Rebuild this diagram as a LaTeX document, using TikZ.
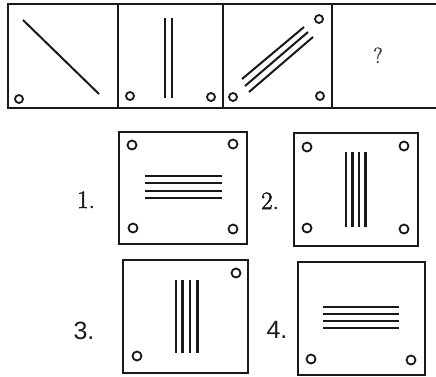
\documentclass[tikz,border=0pt]{standalone}
\usepackage{fontspec}
\newfontfamily\arialfont{Liberation Sans}
\newfontfamily\lmheavy[FakeBold=2]{Latin Modern Roman}
\begin{document}
\begin{tikzpicture}[x=1pt,y=-1pt,
  frame/.style={line width=2.4pt,draw=black!90},
  optbox/.style={line width=2.6pt,draw=black!90},
  stroke/.style={line width=2.2pt,draw=black!90},
  dot/.style={line width=1.8pt,draw=black!90},
  lbl/.style={font=\lmheavy\fontsize{25}{25}\selectfont,anchor=base,text=black!90},
  lbls/.style={font=\arialfont\fontsize{25}{25}\selectfont,anchor=base,text=black!90}]
\useasboundingbox (0,0) rectangle (436,376);
\fill[white] (0,0) rectangle (436,376);
% top row
\draw[frame] (8,4) rectangle (440,108);
\draw[frame] (118,4) -- (118,108);
\draw[frame] (223,4) -- (223,108);
\draw[frame] (332,4) -- (332,108);
% panel 1
\draw[stroke,line width=2pt] (23,20) -- (99,94);
\draw[dot] (19,99) circle (4);
% panel 2
\draw[stroke,line width=2pt] (165,18) -- (165,98);
\draw[stroke,line width=2pt] (172,18) -- (172,98);
\draw[dot] (130,96) circle (4);
\draw[dot] (211,97) circle (4);
% panel 3
\draw[stroke,line width=2pt] (242,79) -- (304,27);
\draw[stroke,line width=2pt] (245,86) -- (308,32);
\draw[stroke,line width=2pt] (249,92) -- (313,37);
\draw[dot] (319,19) circle (4);
\draw[dot] (233,97) circle (4);
\draw[dot] (320,96) circle (4);
% panel 4
\node[font=\lmheavy\fontsize{22}{22}\selectfont,text=black!75,anchor=base] (q) at (378,63) {?};
% option 1
\node[lbl] (l1) at (86,208) {1.};
\draw[optbox] (119,132) rectangle (247,244);
\foreach \yy in {176,183,191,198} \draw[stroke] (145,\yy) -- (222,\yy);
\draw[dot] (132,145) circle (4.5);
\draw[dot] (233,144) circle (4.5);
\draw[dot] (133,228) circle (4.5);
\draw[dot] (233,229) circle (4.5);
% option 2
\node[lbl] (l2) at (270,209) {2.};
\draw[optbox] (294,133) rectangle (418,246);
\foreach \xx in {346,352.5,359,365.5} \draw[stroke,line width=2.5pt] (\xx,152) -- (\xx,227);
\draw[dot] (307,147) circle (4.5);
\draw[dot] (404,146) circle (4.5);
\draw[dot] (307,228) circle (4.5);
\draw[dot] (404,229) circle (4.5);
% option 3
\node[lbls] (l3) at (84,339) {3.};
\draw[optbox] (123,260) rectangle (248,373);
\foreach \xx in {176,182.5,190,197.5} \draw[stroke,line width=2.5pt] (\xx,280) -- (\xx,353);
\draw[dot] (236,273) circle (4.5);
\draw[dot] (137,356) circle (4.5);
% option 4
\node[lbls] (l4) at (277,338) {4.};
\draw[optbox] (298,262) rectangle (425,375);
\foreach \yy in {307,314,321,328} \draw[stroke] (323,\yy) -- (399,\yy);
\draw[dot] (311,359) circle (4.5);
\draw[dot] (411,360) circle (4.5);
\end{tikzpicture}
\end{document}
